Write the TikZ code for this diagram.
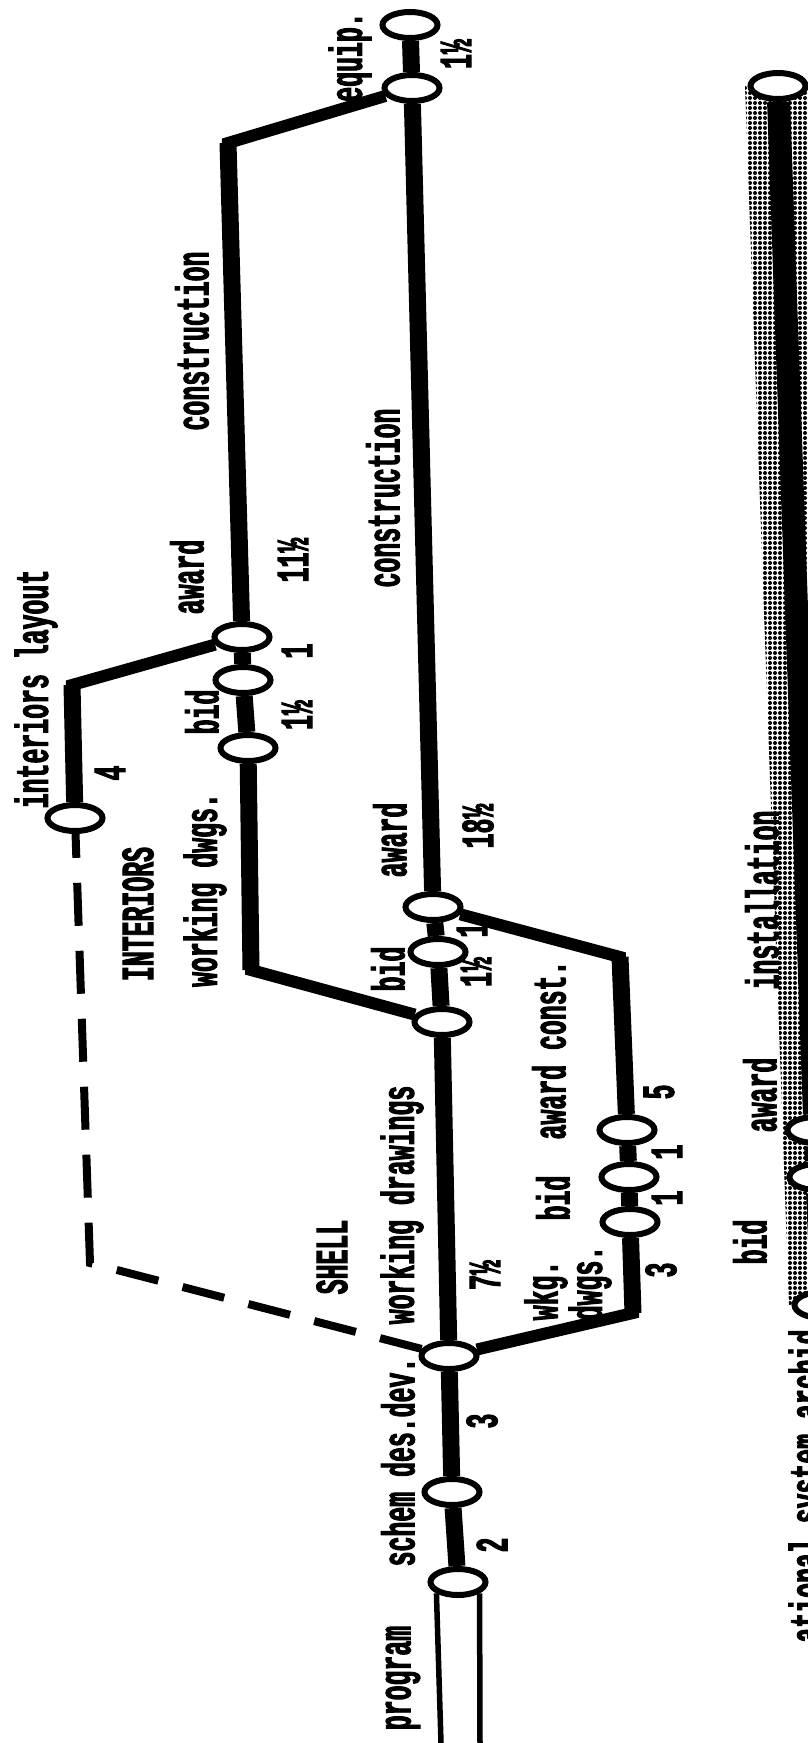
\documentclass[tikz,border=0pt]{standalone}
\usepackage{fontspec}
\newfontfamily\typew[FakeStretch=0.54,FakeBold=2]{Liberation Mono}
\usetikzlibrary{shapes.geometric,patterns.meta,calc}
\pgfdeclarelayer{bg}
\pgfsetlayers{bg,main}

\begin{document}
\begin{tikzpicture}[x=1pt,y=-1pt,
    ev/.style={ellipse, draw, line width=6pt, fill=white, minimum width=55pt, minimum height=26pt, inner sep=0pt},
    act/.style={line width=17pt},
    link/.style={line width=12pt, line join=miter},
    dbl/.style={line width=5.5pt},
    dashln/.style={line width=8pt, dash pattern=on 43pt off 25pt},
    lbl/.style={font=\typew\bfseries\fontsize{46}{34}\selectfont, rotate=90, inner sep=0pt}]
  \useasboundingbox (0,0) rectangle (808,1743);
  % shell line
  \node[ev] (T) at (410,25) {};
  \node[ev] (E) at (412,88) {};
  \node[ev] (A) at (433,907) {};
  \node[ev] (B) at (438,952) {};
  \node[ev] (S) at (442,1022) {};
  \node[ev] (SH) at (449,1356) {};
  \node[ev] (SC) at (452,1492) {};
  \node[ev] (P) at (458,1582) {};
  % interiors
  \node[ev] (IA) at (242,637) {};
  \node[ev] (IB) at (243,680) {};
  \node[ev] (IS) at (248,748) {};
  \node[ev] (L) at (75,818) {};
  % shell package
  \node[ev] (W3) at (627,1130) {};
  \node[ev] (W2) at (629,1177) {};
  \node[ev] (W1) at (630,1222) {};
  % system bar
  \node[ev] (BT) at (778,86) {};
  \node[ev] (BN1) at (815,1130) {};
  \node[ev] (BN2) at (817,1177) {};
  \node[ev] (BN3) at (822,1305) {};
  \coordinate (IC1) at (228,143);
  \coordinate (IC2) at (251,970);
  \coordinate (LC) at (72,685);
  \coordinate (DC) at (90,1263);
  \coordinate (LB1) at (620,957);
  \coordinate (LB2) at (633,1313);
  \coordinate (pl) at (441,1743);
  \coordinate (pr) at (480,1743);

  \begin{pgfonlayer}{bg}
    \draw[act] (P) -- (SC) -- (SH) -- (S) -- (B) -- (A) -- (E) -- (T);
    \draw[link] (S) -- (IC2) -- (IS);
    \draw[act] (IC2) -- (IS) -- (IB) -- (IA) -- (IC1);
    \draw[link] (IA) -- (IC1) -- (E);
    \draw[link] (L) -- (LC) -- (IA);
    \draw[act] (L) -- (LC);
    \draw[link] (A) -- (LB1) -- (W3);
    \draw[act] (LB1) -- (W3) -- (W2) -- (W1) -- (LB2);
    \draw[link] (W1) -- (LB2) -- (SH);
    \draw[dashln] (SH) -- (DC) -- (L);
    \draw[dbl] (P.south west) -- (pl);
    \draw[dbl] (P.south east) -- (pr);
    \fill[pattern={Dots[distance=5pt,radius=2pt]}] ($(BT)+(-33,0)$) -- ($(BT)+(33,0)$) -- ($(BN3)+(33,0)$) -- ($(BN3)+(-33,0)$) -- cycle;
    \draw[line width=23pt] (BT) -- (BN1) -- (BN2) -- (BN3);
  \end{pgfonlayer}

  \node[lbl] (tprog) at (403,1678) {program};
  \node[lbl] (tschem) at (398,1462) {schem des.dev.};
  \node[lbl] (n2) at (492,1545) {2};
  \node[lbl] (n3) at (482,1421) {3};
  \node[lbl] (tshell) at (332,1257) {SHELL};
  \node[lbl] (tswd) at (402,1205) {working drawings};
  \node[lbl] (n7) at (485,1275) {7½};
  \node[lbl] (tmbid) at (388,969) {bid};
  \node[lbl] (nmbid) at (476,972) {1½};
  \node[lbl] (nmaw) at (472,930) {1};
  \node[lbl] (tmaw) at (390,840) {award};
  \node[lbl] (nmcon) at (478,826) {18½};
  \node[lbl] (tmcon) at (383,498) {construction};
  \node[lbl] (teq) at (350,57) {equip.};
  \node[lbl] (neq) at (456,54) {1½};

  \node[lbl, align=left] (twkg) at (568,1283) {wkg.\\dwgs.};
  \node[lbl] (tpbid) at (553,1198) {bid};
  \node[lbl] (tpaw) at (549,1050) {award const.};
  \node[lbl] (np3) at (661,1270) {3};
  \node[lbl] (np1) at (667,1198) {1};
  \node[lbl] (np1b) at (667,1152) {1};
  \node[lbl] (np5) at (659,1092) {5};

  \node[lbl] (tint) at (138,914) {INTERIORS};
  \node[lbl] (tiwd) at (205,890) {working dwgs.};
  \node[lbl] (tlay) at (36,689) {interiors layout};
  \node[lbl] (n4) at (110,773) {4};
  \node[lbl] (tibid) at (202,712) {bid};
  \node[lbl] (nibid) at (297,715) {1½};
  \node[lbl] (niaw) at (297,651) {1};
  \node[lbl] (tiaw) at (187,577) {award};
  \node[lbl] (nicon) at (293,560) {11½};
  \node[lbl] (ticon) at (192,341) {construction};

  \node[lbl] (tinst) at (762,900) {installation};
  \node[lbl] (tbaw) at (760,1095) {award};
  \node[lbl] (tbbid) at (750,1242) {bid};
  \node[lbl] (tsys) at (810,1486) {ational system archid};
\end{tikzpicture}
\end{document}
